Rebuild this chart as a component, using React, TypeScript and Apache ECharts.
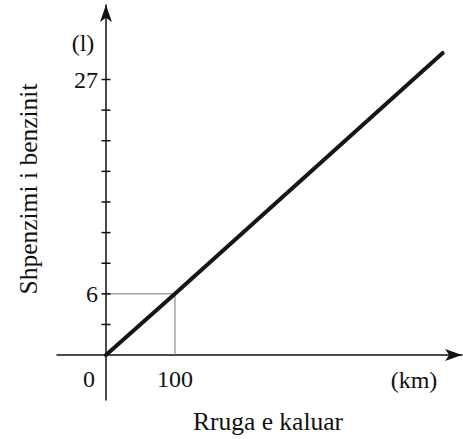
import React, { useEffect, useRef } from "react";
import * as echarts from "echarts";

const fuelLine: [number, number][] = [[0, 0], [100, 6], [488, 29.6]];
const guide: [number, number][] = [[0, 6], [100, 6], [100, 0]];
const yTickValues = [3, 6, 9, 12, 15, 18, 21, 24, 27];
const yLabelValues = [6, 27];
const xLabelValues = [100];
const originLabel = "0";
const xUnit = "(km)";
const yUnit = "(l)";
const xTitle = "Rruga e kaluar";
const yTitle = "Shpenzimi i benzinit";

const FONT = "Liberation Serif";
const INK = "#111111";
const FS = 24;

const textStyle = (text: string, size: number = FS) => ({
  text,
  fontFamily: FONT,
  fontSize: size,
  fill: INK,
  align: "center",
  verticalAlign: "middle",
});

export default function App() {
  const ref = useRef<HTMLDivElement>(null);
  useEffect(() => {
    const chart = echarts.init(ref.current!, null, { renderer: "svg" });
    chart.setOption({
      animation: false,
      backgroundColor: "#ffffff",
      grid: { left: 57, right: 1, top: 5, bottom: 39, containLabel: false },
      xAxis: {
        type: "value",
        min: -71,
        max: 516,
        splitLine: { show: false },
        axisTick: { show: false },
        axisLabel: { show: false },
        axisLine: {
          onZero: true,
          lineStyle: { color: INK, width: 1.5 },
          symbol: ["none", "arrow"],
          symbolSize: [9, 17],
        },
      },
      yAxis: {
        type: "value",
        min: -4.4,
        max: 34.3,
        splitLine: { show: false },
        axisTick: { show: false },
        axisLabel: { show: false },
        axisLine: {
          onZero: true,
          lineStyle: { color: INK, width: 1.5 },
          symbol: ["none", "arrow"],
          symbolSize: [9, 17],
        },
      },
      series: [
        {
          type: "line",
          data: guide,
          symbol: "none",
          lineStyle: { color: "#777", width: 1 },
          z: 2,
        },
        {
          type: "line",
          data: fuelLine,
          symbol: "none",
          lineStyle: { color: "#161616", width: 4, cap: "round" },
          z: 3,
        },
        {
          type: "scatter",
          data: yTickValues.map((v) => [0, v]),
          symbol: "rect",
          symbolSize: [9, 1.5],
          itemStyle: { color: INK, opacity: 1 },
          z: 4,
        },
        {
          type: "scatter",
          data: yLabelValues.map((v) => [0, v]),
          symbolSize: 0,
          itemStyle: { opacity: 1 },
          label: {
            show: true,
            formatter: (p: any) => String(p.value[1]),
            position: "left",
            distance: 8,
            color: INK,
            opacity: 1,
            fontFamily: FONT,
            fontSize: FS,
          },
        },
        {
          type: "scatter",
          data: xLabelValues.map((v) => [v, 0]),
          symbolSize: 0,
          itemStyle: { opacity: 1 },
          label: {
            show: true,
            formatter: (p: any) => String(p.value[0]),
            position: "bottom",
            distance: 12,
            color: INK,
            opacity: 1,
            fontFamily: FONT,
            fontSize: FS,
          },
        },
        {
          type: "scatter",
          data: [[0, 0]],
          symbolSize: 0,
          itemStyle: { opacity: 1 },
          label: {
            show: true,
            formatter: originLabel,
            position: "bottom",
            distance: 12,
            offset: [-17, 0],
            color: INK,
            opacity: 1,
            fontFamily: FONT,
            fontSize: FS,
          },
        },
      ],
      graphic: [
        { type: "text", x: 83, y: 43, style: textStyle(yUnit) },
        { type: "text", x: 414, y: 380, style: textStyle(xUnit) },
        { type: "text", x: 268, y: 421, style: textStyle(xTitle, 25.5) },
        { type: "text", x: 28, y: 189, rotation: Math.PI / 2, style: textStyle(yTitle, 25.5) },
      ],
    });
    return () => chart.dispose();
  }, []);
  return (
    <div
      ref={ref}
      style={{ position: "fixed", left: 0, top: 0, width: 463, height: 439, background: "#fff" }}
    />
  );
}
